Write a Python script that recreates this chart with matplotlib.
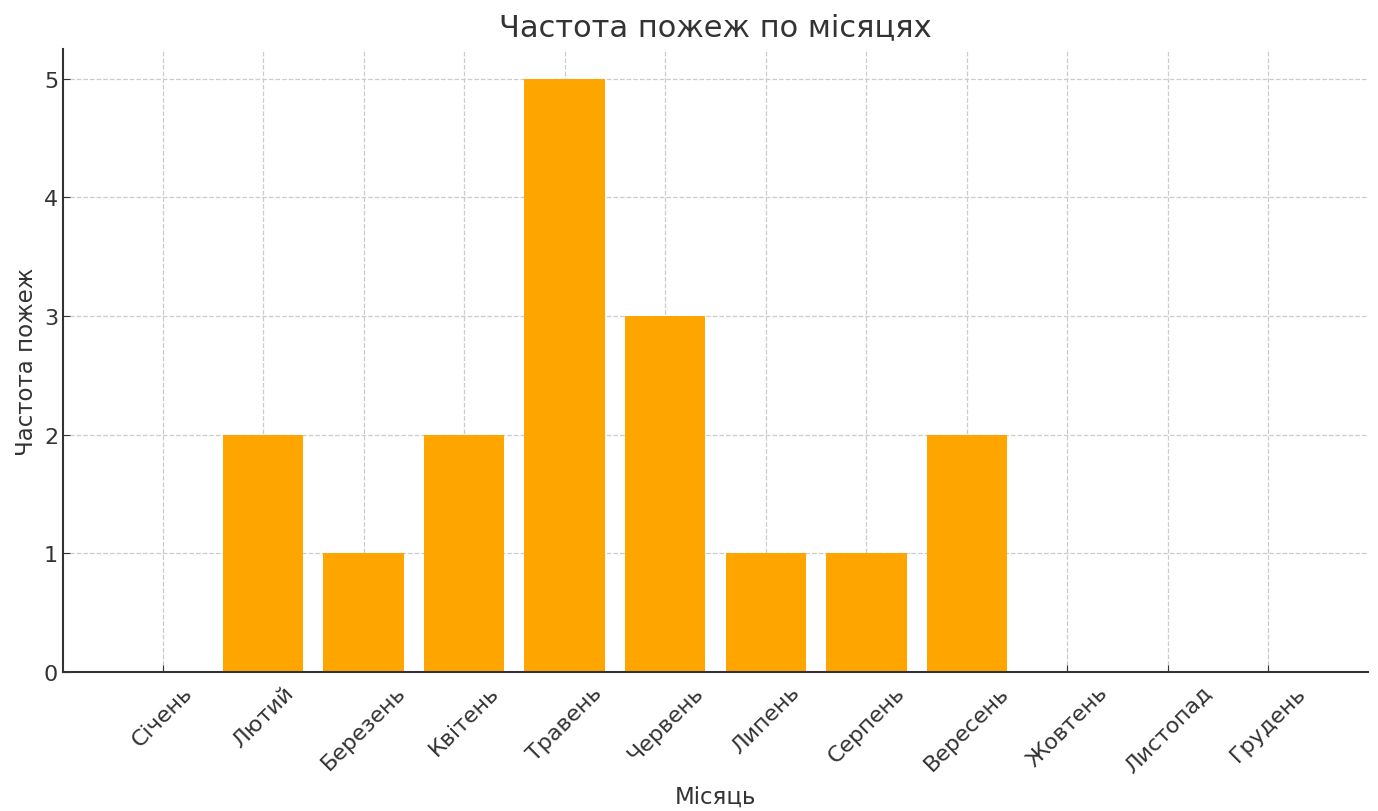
import matplotlib.pyplot as plt

months = ['Січень', 'Лютий', 'Березень', 'Квітень', 'Травень', 'Червень',
          'Липень', 'Серпень', 'Вересень', 'Жовтень', 'Листопад', 'Грудень']
fires = [0, 2, 1, 2, 5, 3, 1, 1, 2, 0, 0, 0]

plt.rcParams['font.family'] = ['DejaVu Sans']
text_color = '#333333'

fig = plt.figure(figsize=(13.78, 8.12), dpi=100)
ax = fig.add_axes([63 / 1378, 1 - 673 / 812, (1368 - 63) / 1378, (673 - 50) / 812])

ax.bar(months, fires, color='#FFA500', width=0.8, zorder=2)

ax.set_title('Частота пожеж по місяцях', fontsize=22, color=text_color, pad=10)
ax.set_xlabel('Місяць', fontsize=16.5, color=text_color, labelpad=7)
ax.set_ylabel('Частота пожеж', fontsize=16.5, color=text_color)

ax.grid(True, linestyle='--', color='#cccccc', linewidth=0.9, zorder=0)
ax.spines['top'].set_visible(False)
ax.spines['right'].set_visible(False)
for s in ('left', 'bottom'):
    ax.spines[s].set_color(text_color)
    ax.spines[s].set_linewidth(1.5)

ax.tick_params(axis='both', direction='in', length=5, colors=text_color, labelsize=16)
ax.tick_params(axis='x', pad=7)
for lbl in ax.get_xticklabels():
    lbl.set_rotation(45)
    lbl.set_ha('center')

fig.savefig('out.png', dpi=100)
